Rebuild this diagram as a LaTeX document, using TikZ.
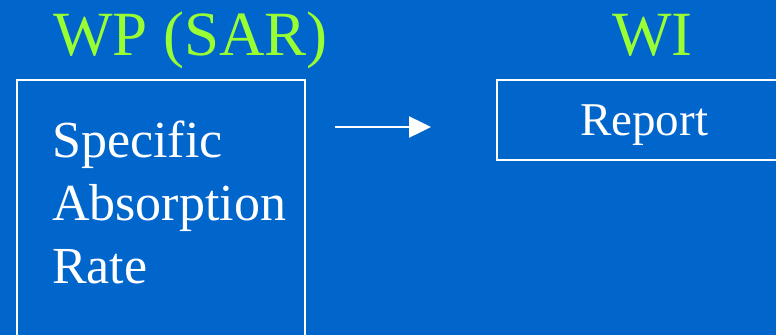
\documentclass[tikz,border=0pt]{standalone}
\usepackage{fontspec}
\setmainfont{Liberation Serif}
\usetikzlibrary{arrows.meta}
\definecolor{slideblue}{RGB}{0,102,204}
\definecolor{titlegreen}{RGB}{153,255,51}
\begin{document}
\begin{tikzpicture}[x=1bp,y=-1bp,
	title/.style={text=titlegreen,font=\fontsize{63bp}{70bp}\selectfont,inner sep=0,anchor=base west},
	body/.style={text=white,font=\fontsize{52bp}{63bp}\selectfont,inner sep=0,anchor=base west,align=left},
	box/.style={rectangle,draw=white,line width=2bp,anchor=north west,inner sep=0},
	link/.style={-{Triangle[length=22bp,width=21bp]},draw=white,line width=2.5bp}
]

	\fill[slideblue] (0,0) rectangle (776,335);
	\clip (0,0) rectangle (776,335);

	\node[title] (wp) at (53,55) {WP (SAR)};
	\node[title] (wi) at (612,55) {WI};

	\node[box,minimum width=288bp,minimum height=280bp] (sar) at (16,79) {};
	% base of a multi-line node is its last line
	\node[body] (sartext) at (52,283) {Specific\\Absorption\\Rate};

	\node[box,minimum width=320bp,minimum height=80bp] (report) at (496,79) {};
	\node[body,font=\fontsize{47bp}{56bp}\selectfont] (reporttext) at (580,135) {Report};

	\coordinate (from) at (335,127);
	\coordinate (to) at (431,127);
	\draw[link] (from) -- (to);

\end{tikzpicture}
\end{document}
